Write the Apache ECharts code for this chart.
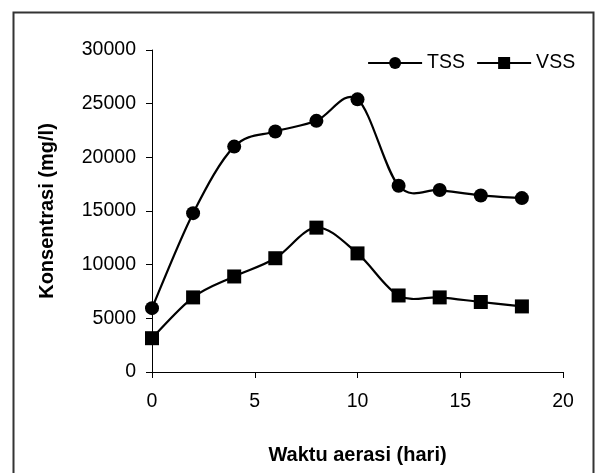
<!DOCTYPE html>
<html>
<head>
<meta charset="utf-8">
<script src="https://cdn.jsdelivr.net/npm/echarts@6/dist/echarts.min.js"></script>
<style>html,body{margin:0;padding:0;background:#fff;}#c{width:597px;height:473px;}</style>
</head>
<body>
<div id="c"></div>
<script>
const days = [0, 2, 4, 6, 8, 10, 12, 14, 16, 18];
const tss = [5950, 14800, 21000, 22400, 23400, 25400, 17350, 16950, 16450, 16200];
const vss = [3150, 6950, 8900, 10600, 13450, 11050, 7130, 6950, 6520, 6110];
const xTicks = [0, 5, 10, 15, 20];
const yTicks = [0, 5000, 10000, 15000, 20000, 25000, 30000];

const font = 'Liberation Sans, Arial, sans-serif';
const chart = echarts.init(document.getElementById('c'), null, {renderer: 'canvas'});

// Excel-like smoothed curve (Catmull-Rom bezier) through points mapped by the axes
function smoothCurve(values) {
  return function (params, api) {
    if (params.dataIndex !== 0) return null;
    const pts = days.map((d, i) => api.coord([d, values[i]]));
    const n = pts.length;
    let path = 'M' + pts[0][0] + ' ' + pts[0][1];
    for (let i = 0; i < n - 1; i++) {
      const p0 = pts[Math.max(i - 1, 0)], p1 = pts[i], p2 = pts[i + 1], p3 = pts[Math.min(i + 2, n - 1)];
      const c1x = p1[0] + (p2[0] - p0[0]) / 6, c1y = p1[1] + (p2[1] - p0[1]) / 6;
      const c2x = p2[0] - (p3[0] - p1[0]) / 6, c2y = p2[1] - (p3[1] - p1[1]) / 6;
      path += ' C' + c1x + ' ' + c1y + ' ' + c2x + ' ' + c2y + ' ' + p2[0] + ' ' + p2[1];
    }
    return {
      type: 'path',
      shape: {pathData: path},
      style: {fill: 'none', stroke: '#000', lineWidth: 2.2}
    };
  };
}

const axisCommon = {
  axisLine: {show: true, lineStyle: {color: '#000', width: 1}},
  axisTick: {show: true, inside: false, length: 6, lineStyle: {color: '#000', width: 1}},
  splitLine: {show: false},
  nameTextStyle: {color: '#000', fontSize: 20, fontWeight: 'bold', fontFamily: font}
};
chart.setOption({
  animation: false,
  backgroundColor: '#fff',
  graphic: [{
    type: 'rect', shape: {x: 13.5, y: 12.5, width: 580, height: 480},
    style: {fill: 'none', stroke: '#333', lineWidth: 2}, z: 100
  }],
  grid: {left: 152, right: 34, top: 50, bottom: 101, containLabel: false},
  legend: {
    left: 367, top: 53, padding: 0, itemWidth: 54, itemHeight: 15, itemGap: 11,
    textStyle: {color: '#000', fontSize: 19.5, fontFamily: font},
    lineStyle: {color: '#000', width: 2.2, opacity: 1},
    data: ['TSS', 'VSS']
  },
  xAxis: Object.assign({}, axisCommon, {
    type: 'value', min: xTicks[0], max: xTicks[xTicks.length - 1], interval: 5,
    name: 'Waktu aerasi (hari)', nameLocation: 'middle', nameGap: 73,
    axisLabel: {color: '#000', fontSize: 19.5, fontFamily: font, margin: 20}
  }),
  yAxis: Object.assign({}, axisCommon, {
    type: 'value', min: yTicks[0], max: yTicks[yTicks.length - 1], interval: 5000,
    name: 'Konsentrasi (mg/l)', nameLocation: 'middle', nameGap: 95,
    axisLabel: {color: '#000', fontSize: 19.5, fontFamily: font, margin: 16,
      formatter: v => String(v)}
  }),
  series: [{
    type: 'custom', silent: true, z: 1,
    renderItem: smoothCurve(tss),
    data: [[days[0], tss[0]]]
  }, {
    type: 'custom', silent: true, z: 1,
    renderItem: smoothCurve(vss),
    data: [[days[0], vss[0]]]
  }, {
    name: 'TSS', type: 'line', z: 3,
    data: days.map((d, i) => [d, tss[i]]),
    symbol: 'circle', symbolSize: 14,
    lineStyle: {color: '#000', width: 0, opacity: 0},
    itemStyle: {color: '#000'}
  }, {
    name: 'VSS', type: 'line', z: 3,
    data: days.map((d, i) => [d, vss[i]]),
    symbol: 'rect', symbolSize: 14,
    lineStyle: {color: '#000', width: 0, opacity: 0},
    itemStyle: {color: '#000'}
  }]
});
</script>
</body>
</html>
